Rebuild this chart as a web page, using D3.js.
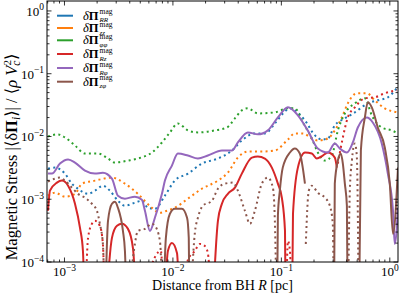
<!DOCTYPE html>
<html>
<head>
<meta charset="utf-8">
<script src="https://cdnjs.cloudflare.com/ajax/libs/d3/7.8.5/d3.min.js"></script>
<style>
body { margin: 0; background: #fff; }
text { font-family: "Liberation Serif", "DejaVu Serif", serif; fill: #000; }
</style>
</head>
<body>
<div id="chart"></div>
<script>
// [R (pc), signed stress]; > 0 drawn solid, < 0 drawn dotted, 0 marks a sign change
var stress_RR = [[7.05e-4,-3.08e-3],[8.17e-4,-3.19e-3],[1.01e-3,-2.56e-3],[1.17e-3,-1.77e-3],[1.33e-3,-1.47e-3],[1.65e-3,-1.22e-3],[1.91e-3,-1.37e-3],[2.26e-3,-1.64e-3],[2.62e-3,-1.37e-3],[3.11e-3,-9.46e-4],[3.61e-3,-7.87e-4],[4.46e-3,-8.79e-4],[5.17e-3,-9.46e-4],[5.88e-3,-7.31e-4],[6.82e-3,-7.05e-4],[8.44e-3,-1.14e-3],[1.04e-2,-1.98e-3],[1.375e-2,-2.56e-3],[1.85e-2,-3.70e-3],[2.60e-2,-4.45e-3],[3.50e-2,-5.97e-3],[4.32e-2,-8.63e-3],[5.70e-2,-1.12e-2],[7.05e-2,-1.12e-2],[8.71e-2,-1.61e-2],[0.108,-2.51e-2],[0.120,-2.81e-2],[0.133,-2.61e-2],[0.165,-1.80e-2],[0.204,-1.04e-2],[0.236,-8.95e-3],[0.268,-9.29e-3],[0.311,-1.50e-2],[0.385,-1.94e-2],[0.476,-2.42e-2],[0.627,-3.37e-2],[0.775,-3.77e-2],[0.959,-4.21e-2],[1.16,-5.86e-2]];

var stress_zz = [[7.05e-4,-1.14e-3],[8.17e-4,-1.27e-3],[1.01e-3,-1.10e-3],[1.25e-3,-1.22e-3],[1.45e-3,-1.77e-3],[1.91e-3,-1.98e-3],[2.74e-3,-2.21e-3],[3.61e-3,-1.77e-3],[4.75e-3,-1.22e-3],[6.40e-3,-7.31e-4],[7.59e-3,-6.08e-4],[8.81e-3,-6.55e-4],[1.04e-2,-7.31e-4],[1.375e-2,-1.02e-3],[1.85e-2,-1.47e-3],[2.60e-2,-1.98e-3],[3.21e-2,-2.65e-3],[3.97e-2,-4.61e-3],[4.91e-2,-5.75e-3],[6.61e-2,-5.75e-3],[8.71e-2,-5.97e-3],[0.115,-8.95e-3],[0.133,-1.12e-2],[0.158,-1.12e-2],[0.191,-9.29e-3],[0.217,-8.63e-3],[0.268,-9.29e-3],[0.311,-1.25e-2],[0.361,-2.01e-2],[0.410,-3.37e-2],[0.496,-4.88e-2],[0.614,-4.88e-2],[0.727,-3.77e-2],[0.899,-2.81e-2],[1.19,-2.42e-2]];

var stress_pp = [[7.05e-4,-1.00e-2],[8.71e-4,-1.08e-2],[1.01e-3,-9.64e-3],[1.25e-3,-7.18e-3],[1.545e-3,-5.35e-3],[2.04e-3,-5.35e-3],[2.52e-3,-4.45e-3],[2.92e-3,-3.84e-3],[3.85e-3,-4.13e-3],[4.75e-3,-4.45e-3],[6.40e-3,-5.55e-3],[7.92e-3,-8.02e-3],[9.38e-3,-1.16e-2],[1.11e-2,-1.61e-2],[1.375e-2,-1.25e-2],[1.70e-2,-1.16e-2],[2.44e-2,-1.25e-2],[3.15e-2,-1.39e-2],[3.73e-2,-1.94e-2],[4.32e-2,-2.61e-2],[4.91e-2,-2.81e-2],[6.07e-2,-2.33e-2],[8.71e-2,-2.42e-2],[0.115,-2.81e-2],[0.133,-2.81e-2],[0.158,-1.67e-2],[0.191,-9.29e-3],[0.217,-5.55e-3],[0.252,-4.13e-3],[0.292,-4.97e-3],[0.332,-1.25e-2],[0.385,-2.33e-2],[0.476,-3.37e-2],[0.589,-4.06e-2],[0.682,-2.17e-2],[0.843,-1.39e-2],[1.04,-1.25e-2],[1.19,-1.12e-2]];

var stress_Rz = [[7.05e-4,6.55e-4],[7.35e-4,1.37e-3],[8.52e-4,1.84e-3],[9.48e-4,1.98e-3],[1.08e-3,1.64e-3],[1.25e-3,8.47e-4],[1.39e-3,3.50e-4],[1.48e-3,1.50e-4],[1.545e-3,0],
  [1.65e-3,-2.42e-4],[1.79e-3,-4.06e-4],[1.91e-3,-4.53e-4],[2.12e-3,-3.77e-4],[2.26e-3,-1.94e-4],[2.36e-3,0],
  [2.74e-3,2.42e-4],[3.05e-3,3.77e-4],[3.39e-3,4.06e-4],[3.85e-3,3.37e-4],[4.28e-3,1.67e-4],[4.66e-3,0],
  [7.74e-3,-1.50e-4],[8.26e-3,0],
  [8.99e-3,1.50e-4],[9.79e-3,2.01e-4],[1.09e-2,1.39e-4],[1.16e-2,0],
  [1.375e-2,-1.08e-4],[1.59e-2,-1.50e-4],[1.77e-2,-1.94e-4],[1.97e-2,-1.80e-4],[2.10e-2,-1.39e-4],[2.29e-2,0],
  [2.60e-2,4.53e-4],[2.83e-2,8.47e-4],[3.21e-2,1.22e-3],[3.73e-2,1.53e-3],[4.32e-2,2.56e-3],[5.35e-2,4.61e-3],[6.07e-2,4.79e-3],[7.05e-2,4.45e-3],[8.17e-2,3.19e-3],[9.29e-2,1.77e-3],[0.101,1.06e-3],[0.108,3.13e-4],[0.110,0],
  [0.115,-2.17e-4],[0.120,-1.50e-4],[0.125,0],
  [0.128,5.86e-4],[0.142,3.19e-3],[0.165,5.55e-3],[0.191,5.35e-3],[0.212,4.45e-3],[0.241,4.97e-3],[0.268,5.55e-3],[0.311,4.61e-3],[0.325,3.19e-3],
  [0.332,-3.70e-3],[0.369,-9.64e-3],[0.410,-2.01e-2],[0.476,-2.91e-2],[0.589,-4.06e-2],[0.727,-4.21e-2],[0.899,-4.88e-2],[1.16,-5.45e-2]];

var stress_Rp = [[7.05e-4,2.56e-3],[7.67e-4,2.56e-3],[9.09e-4,3.70e-3],[1.08e-3,4.29e-3],[1.25e-3,3.84e-3],[1.545e-3,2.86e-3],[1.91e-3,2.56e-3],[2.26e-3,2.65e-3],[2.74e-3,2.13e-3],[3.11e-3,1.14e-3],[3.61e-3,1.02e-3],[4.46e-3,1.10e-3],[5.17e-3,9.80e-4],[5.52e-3,6.55e-4],[6.14e-3,3.13e-4],[6.82e-3,5.06e-4],[7.92e-3,1.22e-3],[8.44e-3,1.98e-3],[9.79e-3,3.44e-3],[1.11e-2,5.35e-3],[1.375e-2,4.97e-3],[1.70e-2,4.45e-3],[2.10e-2,4.97e-3],[2.83e-2,5.97e-3],[3.50e-2,5.97e-3],[3.97e-2,8.02e-3],[4.91e-2,1.16e-2],[6.07e-2,1.08e-2],[7.51e-2,1.25e-2],[9.29e-2,2.01e-2],[0.115,2.91e-2],[0.142,2.17e-2],[0.175,1.25e-2],[0.217,6.43e-3],[0.268,5.55e-3],[0.311,7.73e-3],[0.346,6.43e-3],[0.402,5.55e-3],[0.456,8.02e-3],[0.507,1.39e-2],[0.614,2.01e-2],[0.697,1.67e-2],[0.843,7.73e-3],[0.959,2.56e-3],[1.07,6.55e-4],[1.11,1.94e-4],[1.19,7.31e-4]];

var stress_zp = [[7.05e-4,-1.91e-3],[8.17e-4,-2.13e-3],[9.09e-4,-2.21e-3],[1.01e-3,-1.98e-3],[1.17e-3,-1.53e-3],[1.33e-3,-1.22e-3],[1.545e-3,-1.06e-3],[1.79e-3,-8.47e-4],[1.99e-3,-6.55e-4],[2.12e-3,-4.06e-4],[2.26e-3,-1.94e-4],[2.36e-3,0],
  [2.52e-3,4.53e-4],[2.74e-3,8.47e-4],[2.92e-3,9.12e-4],[3.11e-3,7.31e-4],[3.46e-3,3.13e-4],[3.61e-3,1.50e-4],[3.77e-3,0],
  [4.46e-3,-1.94e-4],[4.75e-3,-3.13e-4],[5.52e-3,-3.37e-4],[6.40e-3,-4.06e-4],[6.82e-3,-3.77e-4],[7.59e-3,-2.17e-4],[8.09e-3,0],
  [8.61e-3,2.42e-4],[9.38e-3,5.86e-4],[1.04e-2,7.05e-4],[1.21e-2,7.05e-4],[1.35e-2,5.06e-4],[1.40e-2,2.42e-4],[1.43e-2,0],
  [1.59e-2,-2.81e-4],[1.70e-2,-5.06e-4],[1.89e-2,-7.87e-4],[2.29e-2,-9.46e-4],[2.60e-2,-1.47e-3],[3.02e-2,-1.77e-3],[3.57e-2,-1.84e-3],[3.97e-2,-1.37e-3],[4.61e-2,-6.55e-4],[5.13e-2,-4.06e-4],[5.70e-2,-6.55e-4],[6.61e-2,-1.77e-3],[7.51e-2,-2.21e-3],[8.35e-2,-1.53e-3],[8.71e-2,-4.53e-4],[9.09e-2,0],
  [9.29e-2,5.45e-4],[9.68e-2,1.37e-3],[0.103,3.19e-3],[0.120,5.55e-3],[0.133,6.43e-3],[0.148,5.35e-3],[0.158,3.08e-3],[0.165,1.77e-3],
  [0.168,-1.94e-4],[0.179,-1.37e-3],[0.191,-1.64e-3],[0.217,-1.27e-3],[0.252,-1.06e-3],[0.280,-7.87e-4],[0.298,-4.06e-4],[0.305,0],
  [0.311,1.77e-3],[0.332,4.13e-3],[0.353,5.35e-3],[0.369,3.70e-3],[0.385,1.77e-3],[0.402,7.87e-4],[0.410,0],
  [0.428,-1.37e-3],[0.447,-4.13e-3],[0.476,-7.73e-3],[0.496,-4.97e-3],[0.518,0],
  [0.541,5.97e-3],[0.589,2.01e-2],[0.627,3.50e-2],[0.682,2.91e-2],[0.775,1.39e-2],[0.899,6.67e-3],[1.00,1.77e-3],[1.07,2.81e-4],[1.19,3.19e-3]];

var series_subs = ["RR", "zz", "\u03c6\u03c6", "Rz", "R\u03c6", "z\u03c6"];
var series_data = [stress_RR, stress_zz, stress_pp, stress_Rz, stress_Rp, stress_zp];
var series_colors = ["#1f77b4", "#ff7f0e", "#2ca02c", "#d62728", "#9467bd", "#8c564b"];

var x_major = [1e-3, 1e-2, 1e-1, 1];
var x_major_exp = ["\u22123", "\u22122", "\u22121", "0"];
var y_major = [1e-4, 1e-3, 1e-2, 1e-1, 1];
var y_major_exp = ["\u22124", "\u22123", "\u22122", "\u22121", "0"];

var width = 399, height = 296;
var plot = { left: 47, right: 398, top: 1, bottom: 262 };

var x = d3.scaleLog().domain([6.9e-4, 1.19]).range([plot.left, plot.right]);
var y = d3.scaleLog().domain([1e-4, 1.44]).range([plot.bottom, plot.top]);

var svg = d3.select("#chart").append("svg")
    .attr("width", width)
    .attr("height", height);

svg.append("clipPath").attr("id", "clip")
    .append("rect")
    .attr("x", plot.left).attr("y", plot.top)
    .attr("width", plot.right - plot.left).attr("height", plot.bottom - plot.top);

// split a series into runs of one sign, zeros shared by both neighbours
function splitRuns(pts) {
    var runs = [], cur = null;
    pts.forEach(function (p) {
        var s = p[1] > 0 ? 1 : (p[1] < 0 ? -1 : 0);
        if (s === 0) {
            if (cur) { cur.pts.push(p); runs.push(cur); }
            cur = { sign: 0, pts: [p] };
            return;
        }
        if (!cur || (cur.sign !== 0 && cur.sign !== s)) {
            if (cur) runs.push(cur);
            cur = { sign: s, pts: [p] };
        } else {
            cur.sign = s;
            cur.pts.push(p);
        }
    });
    if (cur) runs.push(cur);
    return runs;
}

var line = d3.line()
    .x(function (d) { return x(d[0]); })
    .y(function (d) { return y(Math.max(Math.abs(d[1]), 1e-5)); })
    .curve(d3.curveMonotoneX);

var lines_g = svg.append("g").attr("clip-path", "url(#clip)");
series_data.forEach(function (pts, i) {
    splitRuns(pts).forEach(function (run) {
        if (run.pts.length < 2) return;
        lines_g.append("path")
            .attr("d", line(run.pts))
            .attr("fill", "none")
            .attr("stroke", series_colors[i])
            .attr("stroke-width", 2)
            .attr("stroke-dasharray", run.sign < 0 ? "2,3.3" : null);
    });
});

// ticks, all pointing inward on all four sides
function minorTicks(lo, hi) {
    var out = [];
    for (var e = -5; e <= 1; e++) {
        for (var m = 2; m <= 9; m++) {
            var v = m * Math.pow(10, e);
            if (v > lo && v < hi) out.push(v);
        }
    }
    return out;
}
var x_minor = minorTicks(6.9e-4, 1.19);
var y_minor = minorTicks(1e-4, 1.44);

var ticks_g = svg.append("g").attr("stroke", "#000").attr("stroke-width", 0.8);
function xTick(v, len) {
    ticks_g.append("line").attr("x1", x(v)).attr("x2", x(v)).attr("y1", plot.bottom).attr("y2", plot.bottom - len);
    ticks_g.append("line").attr("x1", x(v)).attr("x2", x(v)).attr("y1", plot.top).attr("y2", plot.top + len);
}
function yTick(v, len) {
    ticks_g.append("line").attr("y1", y(v)).attr("y2", y(v)).attr("x1", plot.left).attr("x2", plot.left + len);
    ticks_g.append("line").attr("y1", y(v)).attr("y2", y(v)).attr("x1", plot.right).attr("x2", plot.right - len);
}
x_major.forEach(function (v) { xTick(v, 4.5); });
x_minor.forEach(function (v) { xTick(v, 2.5); });
y_major.forEach(function (v) { yTick(v, 4.5); });
y_minor.forEach(function (v) { yTick(v, 2.5); });

svg.append("rect")
    .attr("x", plot.left).attr("y", plot.top)
    .attr("width", plot.right - plot.left).attr("height", plot.bottom - plot.top)
    .attr("fill", "none").attr("stroke", "#000").attr("stroke-width", 1);

// tick labels 10^n
x_major.forEach(function (v, i) {
    var t = svg.append("text")
        .attr("x", x(v)).attr("y", 276)
        .attr("text-anchor", "middle")
        .attr("font-size", 13);
    t.append("tspan").text("10");
    t.append("tspan").attr("dy", -5.5).attr("font-size", 9.5).text(x_major_exp[i]);
});
y_major.forEach(function (v, i) {
    var t = svg.append("text")
        .attr("x", 44).attr("y", y(v) + 5)
        .attr("text-anchor", "end")
        .attr("font-size", 13);
    t.append("tspan").text("10");
    t.append("tspan").attr("dy", -5.5).attr("font-size", 9.5).text(y_major_exp[i]);
});

// axis labels
var xl = svg.append("text")
    .attr("x", (plot.left + plot.right) / 2).attr("y", 290)
    .attr("text-anchor", "middle")
    .attr("font-size", 14);
xl.append("tspan").text("Distance from BH ");
xl.append("tspan").attr("font-style", "italic").text("R");
xl.append("tspan").text(" [pc]");

var yl = svg.append("text")
    .attr("transform", "translate(16.5,157) rotate(-90)")
    .attr("text-anchor", "middle")
    .attr("font-size", 16.5);
yl.append("tspan").text("Magnetic Stress |\u27e8\u03b4");
yl.append("tspan").attr("font-weight", "bold").text("\u03a0");
yl.append("tspan").attr("font-style", "italic").attr("font-size", 11.5).attr("dy", 3.5).text("i");
yl.append("tspan").attr("dy", -3.5).text("\u27e9| / \u27e8");
yl.append("tspan").attr("font-style", "italic").text("\u03c1 V");
yl.append("tspan").attr("font-style", "italic").attr("font-size", 11.5).attr("dy", 3.5).text("c");
yl.append("tspan").attr("font-size", 11).attr("dy", -9.5).attr("dx", -5).text("2");
yl.append("tspan").attr("dy", 6).text("\u27e9");

// legend: one text per row, superscript and subscript stacked
var legend_y = [15.7, 28, 40.3, 54, 68, 81.7];
var legend = svg.append("g");
series_subs.forEach(function (sub, i) {
    var ly = legend_y[i];
    legend.append("line")
        .attr("x1", 57).attr("x2", 73)
        .attr("y1", ly).attr("y2", ly)
        .attr("stroke", series_colors[i])
        .attr("stroke-width", 2);
    var t = legend.append("text")
        .attr("x", 83).attr("y", ly + 4)
        .attr("font-size", 12.5);
    t.append("tspan").attr("font-style", "italic").text("\u03b4");
    t.append("tspan").attr("font-weight", "bold").text("\u03a0");
    var w = t.node().getComputedTextLength();
    t.append("tspan").attr("font-size", 7.5).attr("dx", 1).attr("dy", -5.5).text("mag");
    t.append("tspan").attr("font-size", 7).attr("font-style", "italic")
        .attr("x", 84 + w).attr("dy", 8).text(sub);
});
</script>
</body>
</html>
